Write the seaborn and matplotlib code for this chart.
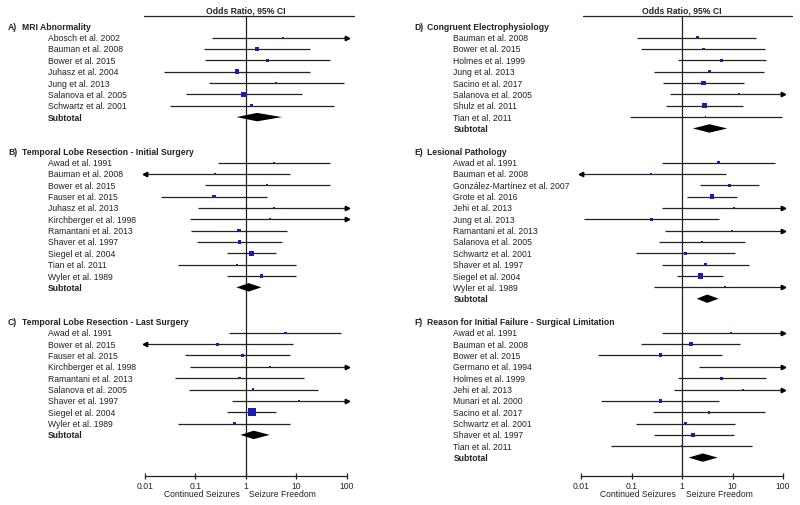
import numpy as np
import pandas as pd
import matplotlib
matplotlib.use("Agg")
import matplotlib.pyplot as plt
import matplotlib.transforms as mtransforms
from matplotlib.ticker import NullLocator
import seaborn as sns

# ---- odds ratios with 95% CI ----
# A) MRI Abnormality
a_study = ["Abosch et al. 2002", "Bauman et al. 2008", "Bower et al. 2015", "Juhasz et al. 2004",
           "Jung et al. 2013", "Salanova et al. 2005", "Schwartz et al. 2001"]
a_or = [5.5, 1.67, 2.67, 0.67, 4.0, 0.92, 1.29]
a_lo = [0.21, 0.146, 0.155, 0.024, 0.189, 0.064, 0.031]
a_hi = [150, 19, 46, 18.5, 87, 13, 55]
a_w = [1.5, 3.5, 2.5, 3.5, 1.7, 4, 2]
a_sub = (1.67, 0.65, 5.2)

# B) Temporal Lobe Resection - Initial Surgery
b_study = ["Awad et al. 1991", "Bauman et al. 2008", "Bower et al. 2015", "Fauser et al. 2015",
           "Juhasz et al. 2013", "Kirchberger et al. 1998", "Ramantani et al. 2013",
           "Shaver et al. 1997", "Siegel et al. 2004", "Tian et al. 2011", "Wyler et al. 1989"]
b_or = [3.67, 0.245, 2.67, 0.234, 3.56, 3.06, 0.73, 0.755, 1.30, 0.67, 2.03]
b_lo = [0.276, 0.005, 0.155, 0.0207, 0.113, 0.077, 0.083, 0.109, 0.42, 0.046, 0.416]
b_hi = [47.5, 7.4, 46, 2.63, 150, 150, 6.4, 5.2, 3.97, 9.7, 9.7]
b_w = [1.5, 1.7, 1.5, 2.5, 1.5, 1.5, 2.5, 2.5, 4, 1.7, 2.3]
b_sub = (1.14, 0.65, 2.03)

# C) Temporal Lobe Resection - Last Surgery
c_study = ["Awad et al. 1991", "Bower et al. 2015", "Fauser et al. 2015", "Kirchberger et al. 1998",
           "Ramantani et al. 2013", "Salanova et al. 2005", "Shaver et al. 1997",
           "Siegel et al. 2004", "Wyler et al. 1989"]
c_or = [6.1, 0.276, 0.84, 3.06, 0.74, 1.39, 11.5, 1.30, 0.59]
c_lo = [0.47, 0.005, 0.061, 0.077, 0.040, 0.073, 0.53, 0.42, 0.046]
c_hi = [77, 8.6, 7.4, 150, 14.3, 26.6, 150, 3.97, 7.6]
c_w = [1.7, 2.3, 2.3, 1.5, 2, 1.7, 1.5, 6, 2.3]
c_sub = (1.43, 0.78, 2.97)

# D) Congruent Electrophysiology
d_study = ["Bauman et al. 2008", "Bower et al. 2015", "Holmes et al. 1999", "Jung et al. 2013",
           "Sacino et al. 2017", "Salanova et al. 2005", "Shulz et al. 2011", "Tian et al. 2011"]
d_or = [2.0, 2.63, 6.1, 3.5, 2.63, 13.3, 2.79, 2.92]
d_lo = [0.13, 0.156, 0.83, 0.28, 0.417, 0.59, 0.49, 0.094]
d_hi = [29.5, 45, 46, 43, 16.7, 150, 16, 96]
d_w = [2.3, 2, 2.3, 2.3, 3.5, 1.5, 3.5, 1.5]
d_sub = (3.5, 1.64, 7.85)

# E) Lesional Pathology
e_study = ["Awad et al. 1991", "Bauman et al. 2008", "González-Martínez et al. 2007",
           "Grote et al. 2016", "Jehi et al. 2013", "Jung et al. 2013", "Ramantani et al. 2013",
           "Salanova et al. 2005", "Schwartz et al. 2001", "Shaver et al. 1997",
           "Siegel et al. 2004", "Wyler et al. 1989"]
e_or = [5.3, 0.245, 8.7, 3.96, 10.5, 0.25, 9.9, 2.47, 1.16, 2.92, 2.29, 7.2]
e_lo = [0.405, 0.005, 2.32, 1.27, 0.41, 0.0117, 0.46, 0.353, 0.122, 0.405, 0.80, 0.277]
e_hi = [70, 7.3, 33, 12.4, 150, 5.3, 150, 17.8, 11.3, 21, 6.5, 150]
e_w = [1.7, 2, 2, 3.5, 1.5, 2, 1.5, 2, 2, 2, 4, 1.5]
e_sub = (3.16, 1.96, 5.3)

# F) Reason for Initial Failure - Surgical Limitation
f_study = ["Awad et al. 1991", "Bauman et al. 2008", "Bower et al. 2015", "Germano et al. 1994",
           "Holmes et al. 1999", "Jehi et al. 2013", "Munari et al. 2000", "Sacino et al. 2017",
           "Schwartz et al. 2001", "Shaver et al. 1997", "Tian et al. 2011"]
f_or = [9.4, 1.5, 0.375, 150, 6.1, 15.8, 0.375, 3.4, 1.16, 1.64, 1.0]
f_lo = [0.405, 0.153, 0.022, 2.15, 0.84, 0.68, 0.0247, 0.264, 0.122, 0.273, 0.04]
f_hi = [150, 14.4, 6.3, 300, 46, 150, 5.5, 45, 11.3, 10.5, 24.5]
f_w = [1.5, 2.5, 3, 1.5, 2.3, 1.5, 3, 2, 2.5, 3.5, 1.5]
f_sub = (2.58, 1.35, 5.1)

left_sections = [
    ("A)", "MRI Abnormality", a_study, a_or, a_lo, a_hi, a_w, a_sub),
    ("B)", "Temporal Lobe Resection - Initial Surgery", b_study, b_or, b_lo, b_hi, b_w, b_sub),
    ("C)", "Temporal Lobe Resection - Last Surgery", c_study, c_or, c_lo, c_hi, c_w, c_sub),
]
right_sections = [
    ("D)", "Congruent Electrophysiology", d_study, d_or, d_lo, d_hi, d_w, d_sub),
    ("E)", "Lesional Pathology", e_study, e_or, e_lo, e_hi, e_w, e_sub),
    ("F)", "Reason for Initial Failure - Surgical Limitation", f_study, f_or, f_lo, f_hi, f_w, f_sub),
]

XMIN, XMAX = 0.01, 100
FS = 6.2
BLUE = "#1c1cb0"
TXT = "#222222"

# header rows: both columns share them, next block starts 3 rows after the longer block
header_rows = [0]
for ls, rs in zip(left_sections[:-1], right_sections[:-1]):
    header_rows.append(header_rows[-1] + max(len(ls[2]), len(rs[2])) + 3)

sns.set_theme(style="white")
plt.rcParams['font.family'] = ['Liberation Sans', 'DejaVu Sans']

fig = plt.figure(figsize=(8, 5.06), dpi=100)


def draw_column(ax, sections, tag_x, title_x, name_x, topline):
    tr = mtransforms.blended_transform_factory(fig.transFigure, ax.transData)
    ax.set_xscale('log')
    ax.axvline(1, color='#222222', lw=0.9, zorder=1)

    for (tag, title, study, orr, lo, hi, w, sub), h in zip(sections, header_rows):
        df = pd.DataFrame({'study': study, 'or': orr, 'lo': lo, 'hi': hi, 'w': w})
        df['row'] = h + 1 + np.arange(len(df))

        ax.text(tag_x, h, tag, transform=tr, fontsize=FS, fontweight='bold', va='center', color=TXT)
        ax.text(title_x, h, title, transform=tr, fontsize=FS, fontweight='bold', va='center', color=TXT)
        for s, r in zip(df['study'], df['row']):
            ax.text(name_x, r, s, transform=tr, fontsize=FS, va='center', color=TXT)

        # confidence intervals, arrows where they run off the scale
        ax.hlines(df['row'], df['lo'].clip(lower=XMIN), df['hi'].clip(upper=XMAX),
                  color='#222222', lw=0.9, zorder=2)
        over = df[df['hi'] > XMAX]
        ax.plot(np.full(len(over), XMAX), over['row'], ls='none', marker='>', ms=3.2,
                color='black', clip_on=False, zorder=3)
        under = df[df['lo'] < XMIN]
        ax.plot(np.full(len(under), XMIN), under['row'], ls='none', marker='<', ms=3.2,
                color='black', clip_on=False, zorder=3)

        # study estimates, square size ~ study weight
        sns.scatterplot(data=df, x='or', y='row', marker='s', s=(df['w'] * 0.95) ** 2,
                        color=BLUE, linewidth=0, ax=ax, legend=False, zorder=4)

        # subtotal diamond
        sr = h + len(df) + 1
        ax.text(name_x, sr, "Subtotal", transform=tr, fontsize=FS, fontweight='bold', va='center', color=TXT)
        est, slo, shi = sub
        ax.fill([slo, est, shi, est], [sr, sr - 0.37, sr, sr + 0.37], color='black', lw=0, zorder=4)

    ax.set(xlabel='', ylabel='')
    ax.set_xlim(XMIN, XMAX)
    ax.set_ylim((476.7 - 27.3) / 11.35, (16.7 - 27.3) / 11.35)
    ax.set_yticks([])
    for side in ['left', 'right', 'top']:
        ax.spines[side].set_visible(False)
    ax.spines['bottom'].set_color('#222222')
    ax.spines['bottom'].set_linewidth(0.9)
    ax.set_xticks([0.01, 0.1, 1, 10, 100])
    ax.set_xticklabels(['0.01', '0.1', '1', '10', '100'])
    ax.xaxis.set_minor_locator(NullLocator())
    ax.tick_params(axis='x', bottom=True, direction='inout', length=5, width=0.9,
                   labelsize=FS, pad=1.2, color='#222222', labelcolor=TXT)

    ax.plot(topline, [1, 1], transform=ax.transAxes, color='#222222', lw=0.9, clip_on=False)
    ax.annotate("Odds Ratio, 95% CI", xy=(0.5, 1), xycoords='axes fraction', xytext=(0, 0.8),
                textcoords='offset points', ha='center', va='bottom', fontsize=FS,
                fontweight='bold', color=TXT)
    ax.annotate("Continued Seizures", xy=(1, 0), xycoords=('data', 'axes fraction'),
                xytext=(-4.1, -12.7), textcoords='offset points', ha='right', va='center',
                fontsize=FS, color=TXT)
    ax.annotate("Seizure Freedom", xy=(1, 0), xycoords=('data', 'axes fraction'),
                xytext=(2.6, -12.7), textcoords='offset points', ha='left', va='center',
                fontsize=FS, color=TXT)


ax_bottom = 1 - 476.7 / 506
ax_height = 460 / 506
ax_l = fig.add_axes([145 / 800, ax_bottom, 201.7 / 800, ax_height])
ax_r = fig.add_axes([581 / 800, ax_bottom, 202 / 800, ax_height])

draw_column(ax_l, left_sections, 8 / 800, 22 / 800, 47.7 / 800, [-0.005, 1.036])
draw_column(ax_r, right_sections, 414.7 / 800, 427.3 / 800, 453.3 / 800, [0.01, 1.043])

fig.savefig('out.png', dpi=100)
